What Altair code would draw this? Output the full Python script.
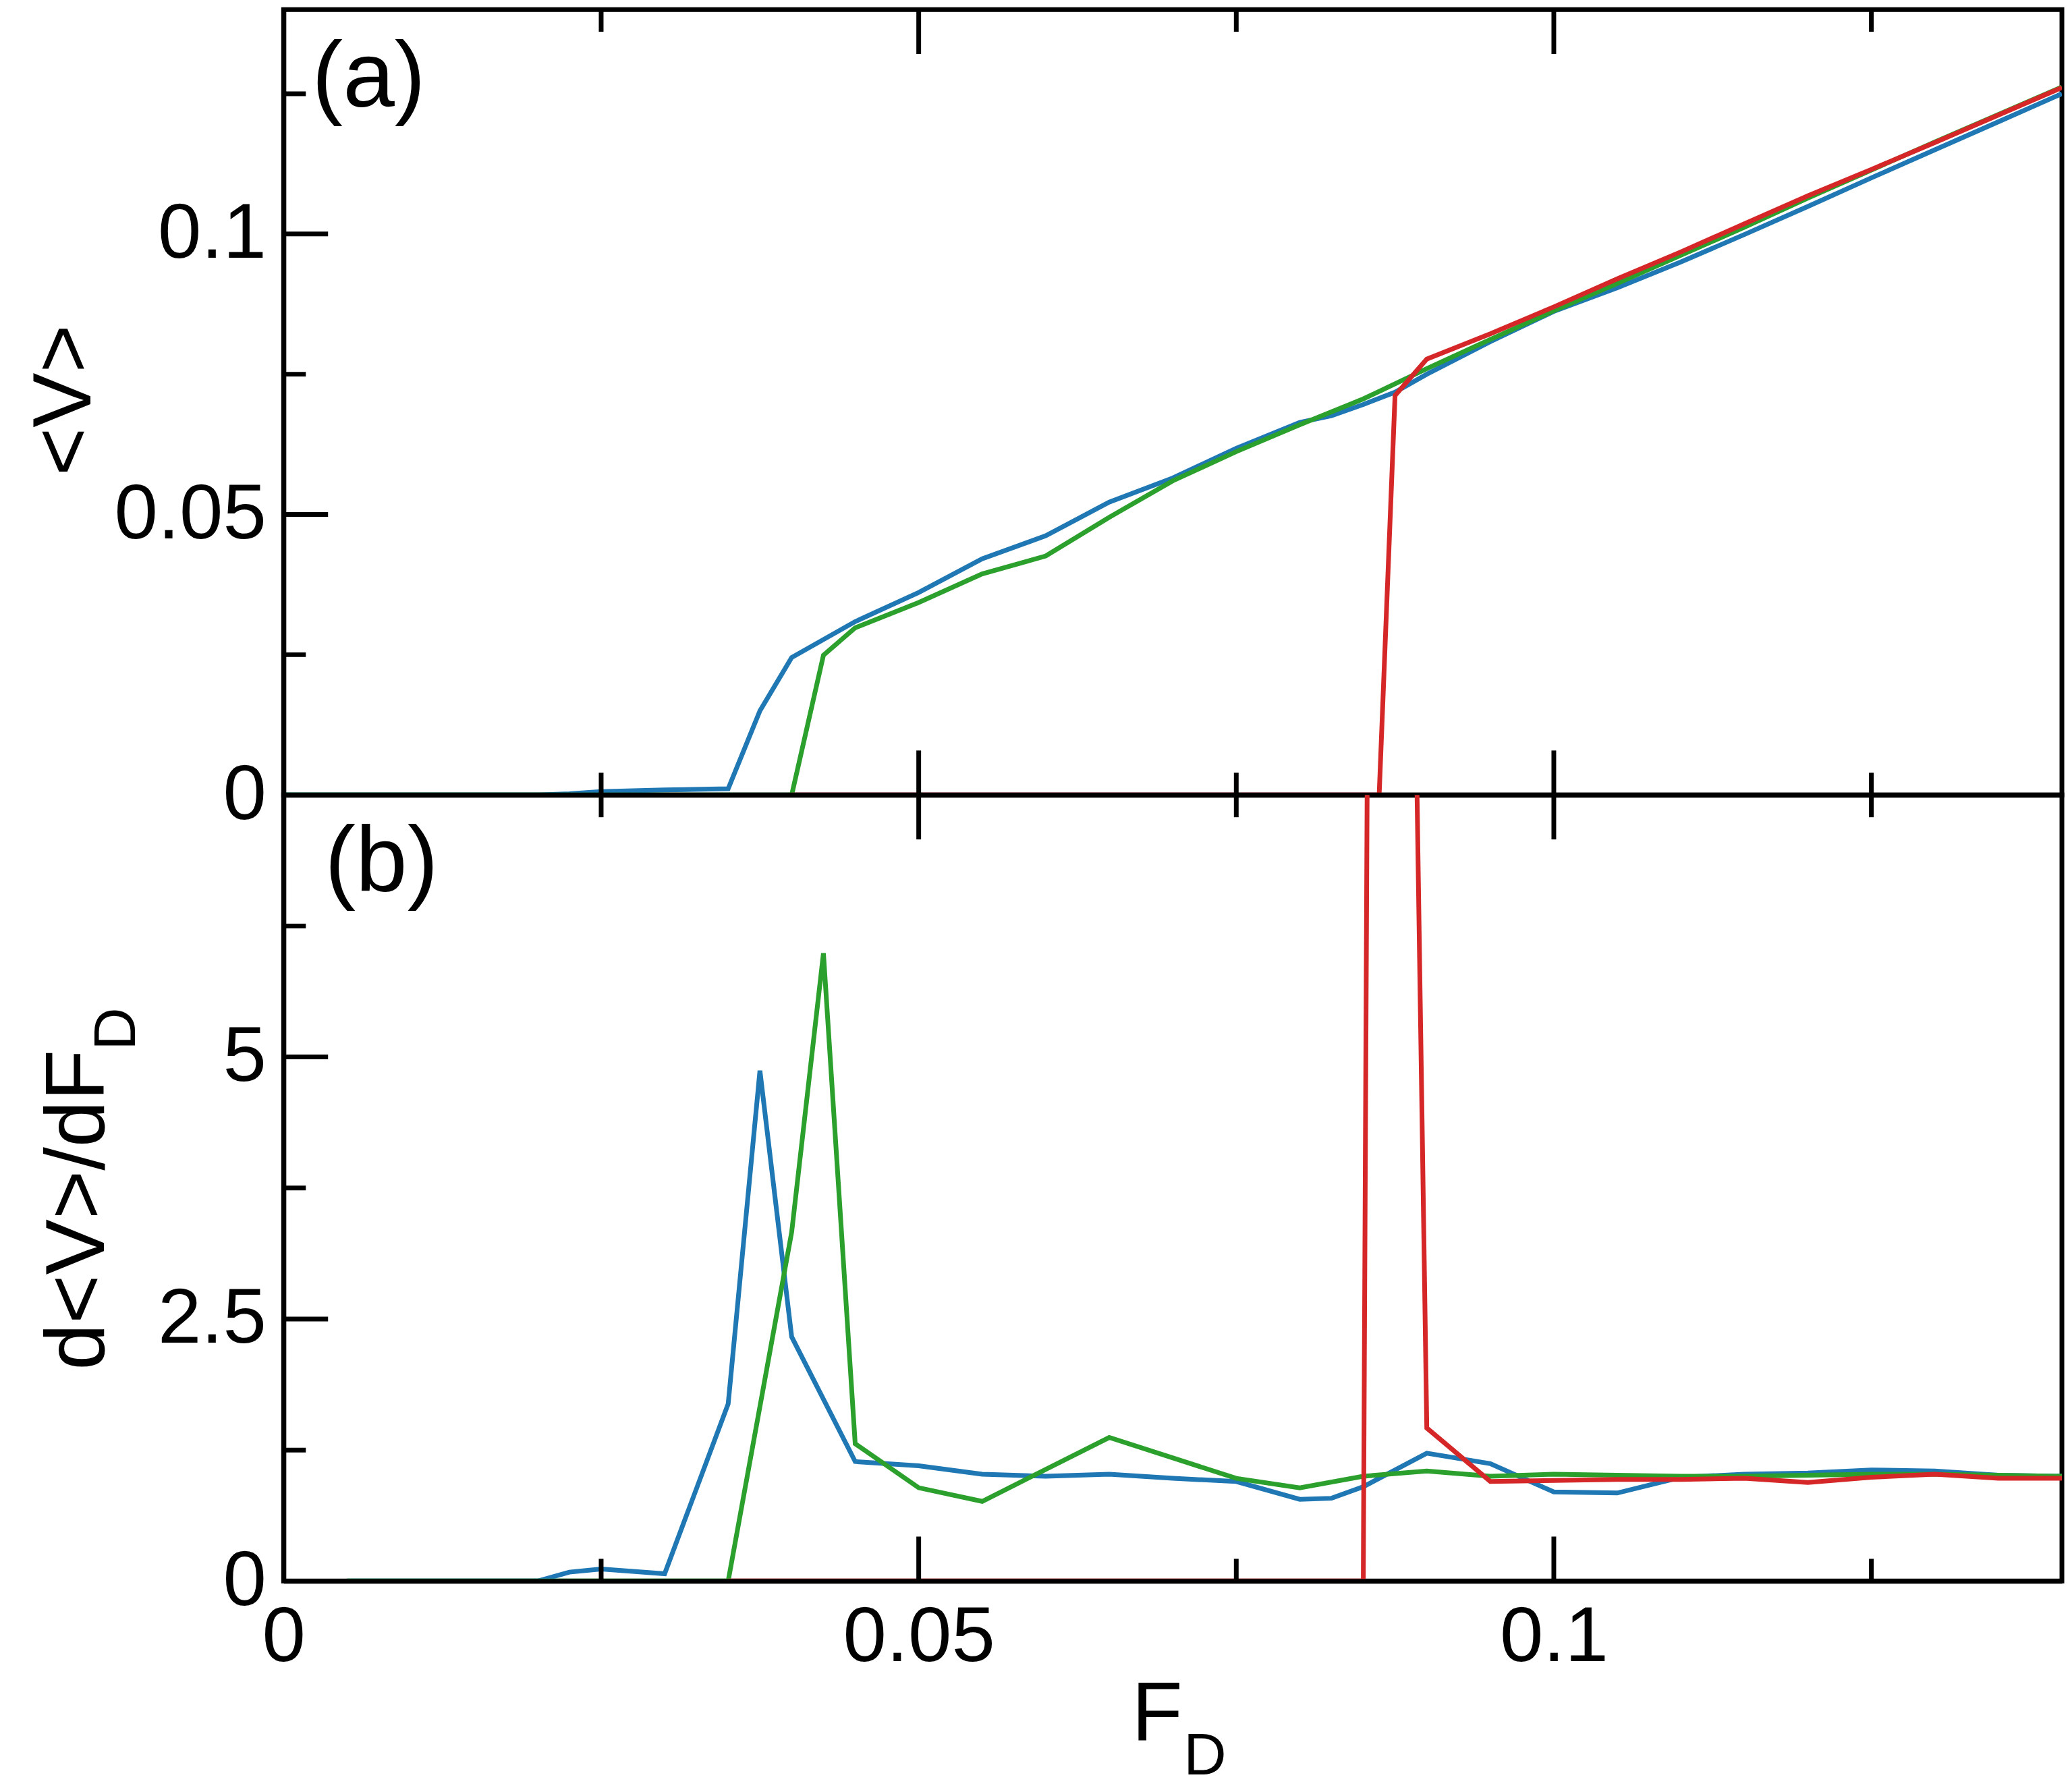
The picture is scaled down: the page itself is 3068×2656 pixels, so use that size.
import altair as alt
import pandas as pd

# ---------------- data ----------------
# panel (a): <V> vs F_D
blue_F = [0, 0.005, 0.01, 0.015, 0.02, 0.0225, 0.025, 0.03, 0.035, 0.0375, 0.04, 0.045,
          0.05, 0.055, 0.06, 0.065, 0.07, 0.075, 0.08, 0.0825, 0.085, 0.0875, 0.09, 0.095,
          0.1, 0.105, 0.11, 0.115, 0.12, 0.125, 0.13, 0.135, 0.14]
blue_V = [0, 0, 0, 0, 0, 0.0002, 0.0006, 0.0009, 0.0011, 0.0150, 0.0245, 0.0309,
          0.0361, 0.0421, 0.0462, 0.0522, 0.0565, 0.0618, 0.0664, 0.0676, 0.0696, 0.0718, 0.0750, 0.0808,
          0.0862, 0.0904, 0.0950, 0.0999, 0.1049, 0.1100, 0.1150, 0.1200, 0.1250]

green_F = [0, 0.005, 0.01, 0.015, 0.02, 0.025, 0.03, 0.035, 0.04, 0.0425, 0.045, 0.05,
           0.055, 0.06, 0.065, 0.07, 0.075, 0.08, 0.085, 0.09, 0.095, 0.1, 0.105, 0.11,
           0.115, 0.12, 0.125, 0.13, 0.135, 0.14]
green_V = [0, 0, 0, 0, 0, 0, 0, 0, 0, 0.0249, 0.0298, 0.0343,
           0.0394, 0.0426, 0.0495, 0.0560, 0.0612, 0.0660, 0.0706, 0.0760, 0.0812, 0.0863, 0.0912, 0.0962,
           0.1012, 0.1064, 0.1114, 0.1164, 0.1213, 0.1262]

red_F = [0.04, 0.045, 0.05, 0.055, 0.06, 0.065, 0.07, 0.075, 0.08, 0.085, 0.08625, 0.0875,
         0.09, 0.095, 0.1, 0.105, 0.11, 0.115, 0.12, 0.125, 0.13, 0.135, 0.14]
red_V = [0, 0, 0, 0, 0, 0, 0, 0, 0, 0, 0, 0.0712,
         0.0777, 0.0822, 0.0870, 0.0920, 0.0968, 0.1018, 0.1068, 0.1115, 0.1163, 0.1212, 0.1261]

# panel (b): d<V>/dF_D vs F_D
blue_dF = [0.005, 0.01, 0.015, 0.02, 0.0225, 0.025, 0.03, 0.035, 0.0375, 0.04, 0.045, 0.05,
           0.055, 0.06, 0.065, 0.07, 0.075, 0.08, 0.0825, 0.085, 0.09, 0.095, 0.1, 0.105,
           0.11, 0.115, 0.12, 0.125, 0.13, 0.135, 0.14]
blue_d = [0, 0, 0, 0, 0.085, 0.115, 0.07, 1.69, 4.87, 2.33, 1.14, 1.10,
          1.02, 1.00, 1.02, 0.98, 0.95, 0.78, 0.79, 0.90, 1.22, 1.12, 0.85, 0.84,
          0.99, 1.02, 1.03, 1.06, 1.05, 1.01, 1.00]

green_dF = [0.005, 0.01, 0.015, 0.02, 0.025, 0.03, 0.035, 0.04, 0.0425, 0.045, 0.05, 0.055,
            0.065, 0.075, 0.08, 0.085, 0.09, 0.095, 0.1, 0.105, 0.11, 0.115, 0.12, 0.125,
            0.13, 0.135, 0.14]
green_d = [0, 0, 0, 0, 0, 0, 0, 3.33, 5.99, 1.31, 0.89, 0.76,
           1.37, 0.98, 0.89, 1.00, 1.05, 1.00, 1.02, 1.01, 1.00, 1.00, 1.01, 1.02,
           1.02, 1.01, 1.00]

red_dF = [0.035, 0.04, 0.045, 0.05, 0.055, 0.06, 0.065, 0.07, 0.075, 0.08, 0.085, 0.08625,
          0.09, 0.095, 0.1, 0.105, 0.11, 0.115, 0.12, 0.125, 0.13, 0.135, 0.14]
red_d = [0, 0, 0, 0, 0, 0, 0, 0, 0, 0, 0, 31.0,
         1.46, 0.95, 0.96, 0.97, 0.97, 0.98, 0.94, 0.99, 1.02, 0.98, 0.98]

# axes / ticks
x_labels = [0, 0.05, 0.1]
x_major = [0.05, 0.1]
x_minor = [0.025, 0.075, 0.125]
ytop_labels = [0, 0.05, 0.1]
ytop_major = [0.05, 0.1]
ytop_minor = [0.025, 0.075, 0.125]
ybot_labels = [0, 2.5, 5]
ybot_major = [2.5, 5]
ybot_minor = [1.25, 3.75, 6.25]

BLUE, GREEN, RED = "#1f77b4", "#2ca02c", "#d62728"
FONT = "Liberation Sans"

# ---------------- layout constants ----------------
W = 2640
H_TOP = 1166
H_BOT = 1167
MAJ, MIN = 66, 33
LW = 7
DLW = 7

x_scale = alt.Scale(domain=[0, 0.14], nice=False, zero=False)
ytop_scale = alt.Scale(domain=[0, 0.14], nice=False, zero=False)
ybot_scale = alt.Scale(domain=[0, 7.5], nice=False, zero=False)

LBL = "'' + datum.value"
x_axis_top = alt.Axis(title=None, labels=False, ticks=False, domain=True, grid=False, zindex=1)
x_axis_bot = alt.Axis(title=None, values=x_labels, labelExpr=LBL, ticks=False, domain=True,
                      grid=False, labelFlush=False, labelOverlap=False, labelPadding=26,
                      labelLimit=2000, zindex=1)
y_axis_top = alt.Axis(title=None, values=ytop_labels, labelExpr=LBL, ticks=False, domain=True,
                      grid=False, labelOverlap=False, labelPadding=26, labelLimit=2000, zindex=1)
y_axis_bot = alt.Axis(title=None, values=ybot_labels, labelExpr=LBL, ticks=False, domain=True,
                      grid=False, labelOverlap=False, labelPadding=26, labelLimit=2000, zindex=1)


def series(F, Y, color, ysc, xax, yax):
    df = pd.DataFrame({"F": F, "Y": Y})
    return alt.Chart(df).mark_line(color=color, strokeWidth=DLW, clip=True).encode(
        x=alt.X("F:Q", scale=x_scale, axis=xax),
        y=alt.Y("Y:Q", scale=ysc, axis=yax),
    )


def xticks(vals, length, H, xax):
    df = pd.DataFrame({"F": vals})
    base = alt.Chart(df).mark_rule(color="black", strokeWidth=LW)
    enc_x = alt.X("F:Q", scale=x_scale, axis=xax)
    bottom = base.encode(x=enc_x, y=alt.value(H), y2=alt.value(H - length))
    top = base.encode(x=enc_x, y=alt.value(0), y2=alt.value(length))
    return [bottom, top]


def yticks(vals, length, ysc, yax):
    df = pd.DataFrame({"Y": vals})
    return alt.Chart(df).mark_rule(color="black", strokeWidth=LW).encode(
        y=alt.Y("Y:Q", scale=ysc, axis=yax), x=alt.value(0), x2=alt.value(length)
    )


def label(text, x, y, size, angle=0, align="left"):
    df = pd.DataFrame({"s": [text]})
    return alt.Chart(df).mark_text(
        fontSize=size, font=FONT, color="black", align=align, baseline="alphabetic", angle=angle
    ).encode(text="s:N", x=alt.value(x), y=alt.value(y))


top_layers = [
    series(blue_F, blue_V, BLUE, ytop_scale, x_axis_top, y_axis_top),
    series(green_F, green_V, GREEN, ytop_scale, x_axis_top, y_axis_top),
    series(red_F, red_V, RED, ytop_scale, x_axis_top, y_axis_top),
]
top_layers += xticks(x_major, MAJ, H_TOP, x_axis_top)
top_layers += xticks(x_minor, MIN, H_TOP, x_axis_top)
top_layers += [
    yticks(ytop_major, MAJ, ytop_scale, y_axis_top),
    yticks(ytop_minor, MIN, ytop_scale, y_axis_top),
    label("(a)", 42, 144, 138),
    label("<V>", -287, 580, 122, angle=270, align="center"),
]
top = alt.layer(*top_layers).properties(width=W, height=H_TOP)

bot_layers = [
    series(blue_dF, blue_d, BLUE, ybot_scale, x_axis_bot, y_axis_bot),
    series(green_dF, green_d, GREEN, ybot_scale, x_axis_bot, y_axis_bot),
    series(red_dF, red_d, RED, ybot_scale, x_axis_bot, y_axis_bot),
]
bot_layers += xticks(x_major, MAJ, H_BOT, x_axis_bot)
bot_layers += xticks(x_minor, MIN, H_BOT, x_axis_bot)
bot_layers += [
    yticks(ybot_major, MAJ, ybot_scale, y_axis_bot),
    yticks(ybot_minor, MIN, ybot_scale, y_axis_bot),
    label("(b)", 61, 143, 138),
    label("d<V>/dF", -267, 616, 124, angle=270, align="center"),
    label("D", -221, 379, 88, angle=270, align="left"),
    label("F", 1259, 1404, 124),
    label("D", 1336, 1454, 88),
]
bottom = alt.layer(*bot_layers).properties(width=W, height=H_BOT)

chart = alt.vconcat(
    top, bottom, spacing=0, bounds="flush",
    padding={"left": 24, "top": -3, "right": 0, "bottom": 0},
).configure_view(
    stroke="black", strokeWidth=LW
).configure_axis(
    labelFont=FONT, labelFontSize=116, labelColor="black",
    domainColor="black", domainWidth=LW,
)

chart.save("out.html", embed_options={"renderer": "svg", "actions": False})
